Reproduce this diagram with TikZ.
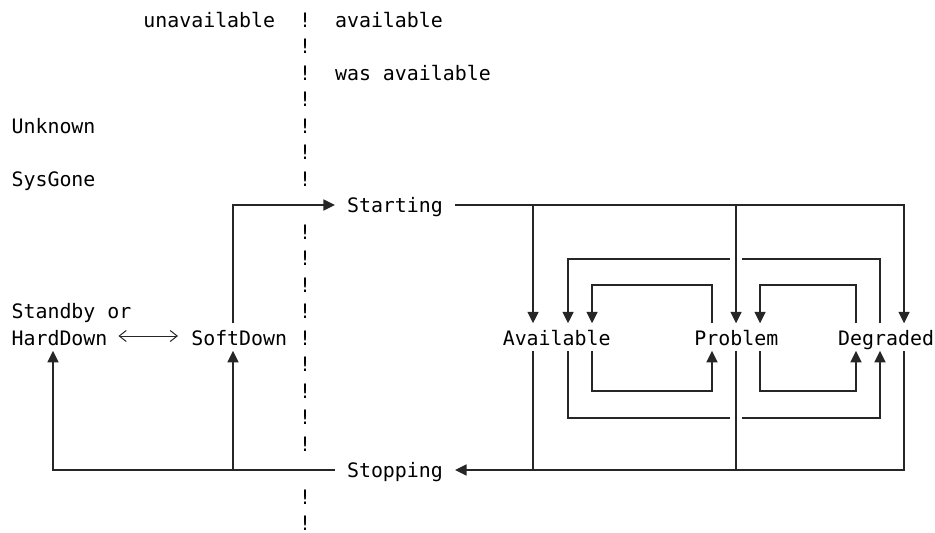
\documentclass[tikz,border=0pt]{standalone}
\usepackage{fontspec}
\newfontfamily\monofont{DejaVu Sans Mono}
\usetikzlibrary{arrows.meta}
\newcommand\CL[1]{11.4+11.98*(#1)}
\newcommand\CC[1]{round(11.4+11.98*(#1+0.5))}
\newcommand\BL[1]{27+26.5*(#1)}
\newcommand\YC[1]{round(20+26.5*(#1))}
\begin{document}
\begin{tikzpicture}[x=1pt,y=-1pt,
  txt/.style={font=\monofont\fontsize{19.9}{24}\selectfont, inner sep=0pt, anchor=base west},
  bang/.style={txt, text height=15pt, text depth=0pt},
  stnode/.style={txt, text height=21.5pt, text depth=5.7pt},
  pass/.style={txt, text height=16pt, text depth=1pt},
  wire/.style={line width=1.6pt, black!85},
  arr/.style={wire, -{Triangle[length=11.5pt,width=11pt]}},
  barb/.style={line width=1pt, black!85, {Straight Barb[length=7pt,width=11pt]}-{Straight Barb[length=7pt,width=11pt]}}
]
\useasboundingbox (0,0) rectangle (935,533);

% header texts
\node[txt] (unav) at ({\CL{11}},{\BL{0}}) {unavailable};
\node[txt] (av0) at ({\CL{27}},{\BL{0}}) {available};
\node[txt] (wasav) at ({\CL{27}},{\BL{2}}) {was available};
\node[txt] (unk) at ({\CL{0}},{\BL{4}}) {Unknown};
\node[txt] (sysg) at ({\CL{0}},{\BL{6}}) {SysGone};
\node[txt] (stby) at ({\CL{0}},{\BL{11}}) {Standby or};

% separator column
\foreach \r in {0,1,2,3,4,5,6,8,9,10,11,12,13,14,15,16,18,19}
  \node[bang] (ex\r) at ({\CL{24}},{\BL{\r}}) {!};

% states
\node[stnode] (hd) at ({\CL{0}},{\BL{12}}) {HardDown};
\node[stnode] (sd) at ({\CL{15}},{\BL{12}}) {SoftDown};
\node[stnode] (av) at ({\CL{41}},{\BL{12}}) {Available};
\node[stnode] (pr) at ({\CL{57}},{\BL{12}}) {Problem};
\node[stnode] (dg) at ({\CL{69}},{\BL{12}}) {Degraded};
\node[pass] (st) at ({\CL{28}},{\BL{7}}) {Starting};
\node[pass] (sp) at ({\CL{28}},{\BL{17}}) {Stopping};

% columns and levels
\foreach \c in {3,18,43,46,48,58,60,62,70,72,74}
  \coordinate (c\c) at ({\CC{\c}},0);
\coordinate (gl) at ({\CC{60}-6},0);
\coordinate (gr) at ({\CC{60}+6},0);
\foreach \r in {9,10,14,15}
  \coordinate (y\r) at (0,{\YC{\r}});

% to Starting and on
\draw[arr, shorten >=12pt] (c18 |- sd.north) |- (st.west);
\draw[arr, shorten <=12pt] (st.east) -| (c74 |- dg.north);
\draw[arr] (c43 |- st.east) -- (c43 |- av.north);
\draw[arr] (c60 |- st.east) -- (c60 |- pr.north);

% upper loops
\draw[arr] (c72 |- dg.north) |- (gr |- y9) (gl |- y9) -| (c46 |- av.north);
\draw[arr] (c58 |- pr.north) |- (c48 |- y10) -- (c48 |- av.north);
\draw[arr] (c70 |- dg.north) |- (c62 |- y10) -- (c62 |- pr.north);

% lower loops
\draw[arr] (c48 |- av.south) |- (c58 |- y14) -- (c58 |- pr.south);
\draw[arr] (c62 |- pr.south) |- (c70 |- y14) -- (c70 |- dg.south);
\draw[arr] (c46 |- av.south) |- (gl |- y15) (gr |- y15) -| (c72 |- dg.south);

% to Stopping and on
\draw[arr, shorten >=12pt] (c74 |- dg.south) |- (sp.east);
\draw[wire] (c43 |- av.south) -- (c43 |- sp.east);
\draw[wire] (c60 |- pr.south) -- (c60 |- sp.east);
\draw[arr, shorten <=12pt] (sp.west) -| (c3 |- hd.south);
\draw[arr] (c18 |- sp.west) -- (c18 |- sd.south);

% HardDown <-> SoftDown
\draw[barb, shorten <=10.8pt, shorten >=13.1pt] ([yshift=1.1pt]hd.east) -- ([yshift=1.1pt]sd.west);
\end{tikzpicture}
\end{document}
